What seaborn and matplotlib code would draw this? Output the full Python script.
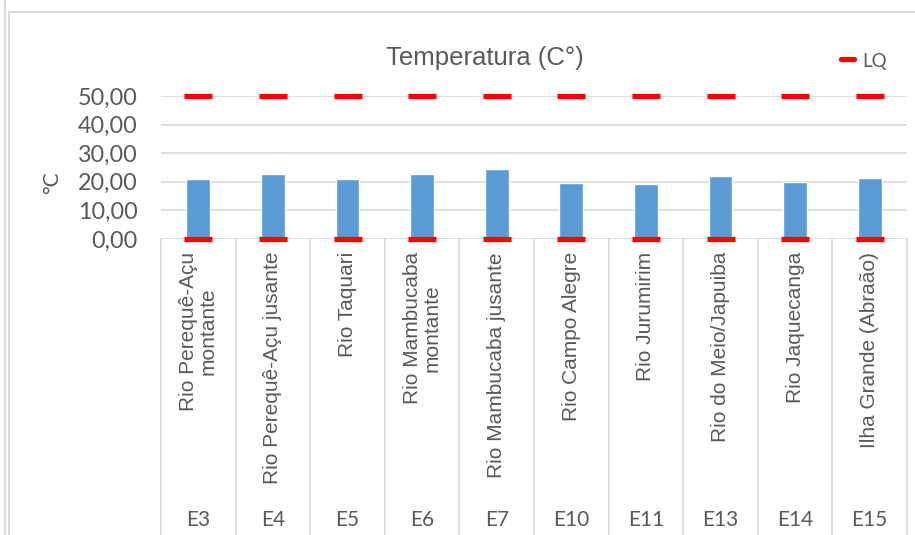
import matplotlib
matplotlib.use("Agg")
import matplotlib.pyplot as plt
import matplotlib.transforms as mtransforms
from matplotlib.lines import Line2D
import seaborn as sns
import pandas as pd

codes = ["E3", "E4", "E5", "E6", "E7", "E10", "E11", "E13", "E14", "E15"]
stations = ["Rio Perequê-Açu\nmontante", "Rio Perequê-Açu jusante", "Rio Taquari",
            "Rio Mambucaba\nmontante", "Rio Mambucaba jusante", "Rio Campo Alegre",
            "Rio Jurumirim", "Rio do Meio/Japuiba", "Rio Jaquecanga",
            "Ilha Grande (Abraão)"]
temperatura = [20.9, 22.7, 20.9, 22.7, 24.5, 19.6, 19.1, 21.9, 20.0, 21.4]
lq_min = [0, 0, 0, 0, 0, 0, 0, 0, 0, 0]
lq_max = [50, 50, 50, 50, 50, 50, 50, 50, 50, 50]
yticks = [0, 10, 20, 30, 40, 50]

sns.set_theme(style="white")
plt.rcParams['font.family'] = ['Lato', 'DejaVu Sans']
arial = ['Liberation Sans', 'DejaVu Sans']

W, H = 915, 535
fig = plt.figure(figsize=(W / 100, H / 100), dpi=100)
ax = fig.add_axes([161 / W, 1 - 239 / H, 746 / W, 143 / H])

df = pd.DataFrame({"code": codes, "temp": temperatura})
sns.barplot(data=df, x="code", y="temp", color="#5B9BD5", width=0.32,
            saturation=1, ax=ax, zorder=2)

xs = list(range(len(codes)))
for vals in (lq_min, lq_max):
    ax.plot(xs, vals, linestyle="none", marker="_", markersize=19.5,
            markeredgewidth=3.8, color="#FF0000", clip_on=False, zorder=4)

grey = "#D9D9D9"
txt = "#595959"
ax.set_ylim(0, 50)
ax.set_xlim(-0.5, len(codes) - 0.5)
ax.set_yticks(yticks)
ax.set_yticklabels([f"{v:.2f}".replace(".", ",") for v in yticks],
                   fontsize=16.8, color=txt)
ax.tick_params(axis="y", length=0, pad=17)
ax.set_xticks([])
ax.set_xlabel("")
ax.set_ylabel("")
for s in ax.spines.values():
    s.set_visible(False)
for v in yticks:
    ax.axhline(v, color=grey, lw=1.2, zorder=0)

trans = mtransforms.blended_transform_factory(ax.transData, ax.transAxes)
ybot = -(H - 239) / 143
for i in range(len(codes) + 1):
    ax.plot([i - 0.5, i - 0.5], [0, ybot], color=grey, lw=1.2,
            transform=trans, clip_on=False)

for i, (st, cd) in enumerate(zip(stations, codes)):
    ax.text(i, -(252 - 239) / 143, st, transform=trans, rotation=90,
            ha="center", va="top", multialignment="center",
            fontsize=15, color=txt, linespacing=1.05, family=arial)
    ax.text(i, -(520 - 239) / 143, cd, transform=trans, ha="center",
            va="center", fontsize=15, color=txt)

fig.text(52 / W, 1 - 183 / H, "°C", rotation=90, ha="center", va="center",
         fontsize=15, color=txt)
fig.text(485 / W, 1 - 58 / H, "Temperatura (C°)", ha="center", va="center",
         fontsize=18.5, color=txt, family=arial)

# legend
fig.add_artist(Line2D([841 / W, 854 / W], [1 - 59 / H, 1 - 59 / H],
                      color="#FF0000", lw=3.8))
fig.text(862 / W, 1 - 61 / H, "LQ", ha="left", va="center", fontsize=13.5,
         color=txt)

# chart borders
fig.add_artist(Line2D([5 / W, 5 / W], [0, 1], color=grey, lw=1.5))
fig.add_artist(Line2D([9 / W, 9 / W], [0, 1 - 12 / H], color=grey, lw=1.5))
fig.add_artist(Line2D([9 / W, 1], [1 - 12 / H, 1 - 12 / H], color=grey, lw=1.5))

fig.savefig("out.png", dpi=100)
